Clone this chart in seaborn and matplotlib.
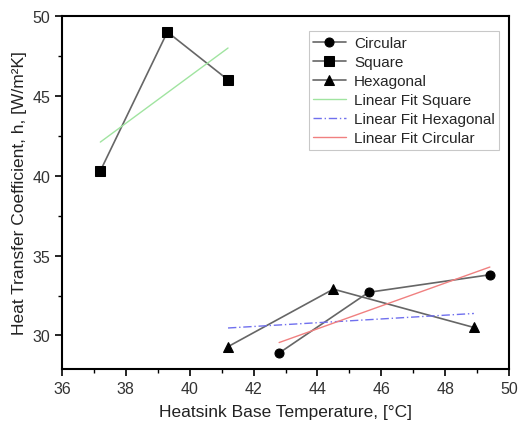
import numpy as np
import pandas as pd
import matplotlib
matplotlib.use("Agg")
import matplotlib.pyplot as plt
from matplotlib.ticker import MultipleLocator
import seaborn as sns

# Data
circ_x = [42.8, 45.6, 49.4]
circ_y = [28.9, 32.7, 33.8]
sq_x = [37.2, 39.3, 41.2]
sq_y = [40.3, 49.0, 46.0]
hex_x = [41.2, 44.5, 48.9]
hex_y = [29.3, 32.9, 30.5]

sns.set_style("ticks")
plt.rcParams['font.family'] = ['Liberation Sans', 'DejaVu Sans']

fig = plt.figure(figsize=(5.21, 4.39), dpi=100)
ax = fig.add_axes([62/521, 1-370/439, (509-62)/521, (370-17)/439])

line_col = "#666666"
mk = dict(markersize=6.5, markerfacecolor="black", markeredgecolor="black")
sns.lineplot(x=circ_x, y=circ_y, ax=ax, color=line_col, lw=1.2, marker="o",
             label="Circular", sort=False, **mk)
sns.lineplot(x=sq_x, y=sq_y, ax=ax, color=line_col, lw=1.2, marker="s",
             label="Square", sort=False, **mk)
sns.lineplot(x=hex_x, y=hex_y, ax=ax, color=line_col, lw=1.2, marker="^",
             label="Hexagonal", sort=False, **mk)

sns.regplot(x=np.array(sq_x), y=np.array(sq_y), ax=ax, ci=None, scatter=False,
            truncate=True, color="#a0e4a0", line_kws=dict(lw=1.0),
            label="Linear Fit Square")
sns.regplot(x=np.array(hex_x), y=np.array(hex_y), ax=ax, ci=None, scatter=False,
            truncate=True, color="#7070ee", line_kws=dict(lw=1.0, ls=(0, (6, 2, 1, 2))),
            label="Linear Fit Hexagonal")
sns.regplot(x=np.array(circ_x), y=np.array(circ_y), ax=ax, ci=None, scatter=False,
            truncate=True, color="#f08080", line_kws=dict(lw=1.0),
            label="Linear Fit Circular")

ax.set_xlim(36, 50)
ax.set_ylim(27.9, 50)
ax.xaxis.set_major_locator(MultipleLocator(2))
ax.xaxis.set_minor_locator(MultipleLocator(1))
ax.yaxis.set_major_locator(MultipleLocator(5))
ax.yaxis.set_minor_locator(MultipleLocator(2.5))
ax.tick_params(which="major", length=5, width=1.2, labelsize=11.5, colors="black")
ax.tick_params(which="minor", length=3, width=1.0, colors="black")
ax.tick_params(labelcolor="#333333")
for s in ax.spines.values():
    s.set_visible(True)
    s.set_linewidth(1.5)
    s.set_color("black")

ax.set_xlabel("Heatsink Base Temperature, [°C]", fontsize=12.5, color="#222222", labelpad=6)
ax.set_ylabel("Heat Transfer Coefficient, h, [W/m²K]", fontsize=12.5, color="#222222", labelpad=4)

leg = ax.legend(loc="upper right", bbox_to_anchor=(0.985, 0.965), fontsize=11,
                frameon=True, fancybox=False, edgecolor="#bbbbbb",
                handlelength=2.1, handletextpad=0.55, labelspacing=0.33,
                borderpad=0.3, borderaxespad=0.2)
leg.get_frame().set_linewidth(0.8)

fig.savefig("out.png", dpi=100)
